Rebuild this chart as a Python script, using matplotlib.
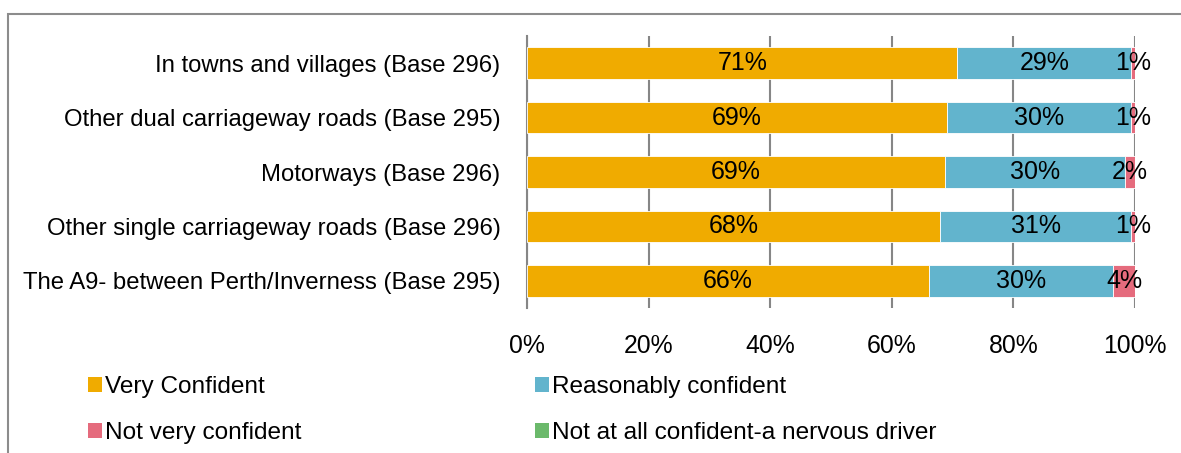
import numpy as np
import matplotlib.pyplot as plt
from matplotlib.patches import Patch, Rectangle

plt.rcParams['font.family'] = ['Liberation Sans', 'DejaVu Sans']

# data (percent of respondents)
roads = ["In towns and villages (Base 296)",
         "Other dual carriageway roads (Base 295)",
         "Motorways (Base 296)",
         "Other single carriageway roads (Base 296)",
         "The A9- between Perth/Inverness (Base 295)"]
very_conf = [70.8, 69.0, 68.8, 68.0, 66.1]
reas_conf = [28.6, 30.3, 29.6, 31.3, 30.3]
not_very = [0.6, 0.7, 1.6, 0.7, 3.6]
not_at_all = [0.0, 0.0, 0.0, 0.0, 0.0]

series = ["Very Confident", "Reasonably confident",
          "Not very confident", "Not at all confident-a nervous driver"]
colors = ["#F0AB00", "#62B4CD", "#E56B7D", "#6BB96B"]

fig = plt.figure(figsize=(11.81, 4.53), dpi=100)
ax = fig.add_axes([527/1181, 1-308/453, 608/1181, 272/453])

y = np.arange(len(roads))
left = np.zeros(len(roads))
for vals, name, c in zip([very_conf, reas_conf, not_very, not_at_all], series, colors):
    vals = np.array(vals)
    bars = ax.barh(y, vals, left=left, height=0.58, color=c, label=name,
                   edgecolor="white", linewidth=0.6, zorder=3)
    if vals.max() > 0:
        ax.bar_label(bars, labels=["%.0f%%" % v for v in vals], label_type="center",
                     fontsize=18, color="black", zorder=4)
    left += vals

ax.set_xlim(0, 100)
ax.set_ylim(len(roads) - 0.5, -0.5)
ax.set_yticks(y)
ax.set_yticklabels(roads, fontsize=17.2)
ax.set_xticks(np.arange(0, 101, 20))
ax.set_xticklabels(["%d%%" % t for t in range(0, 101, 20)], fontsize=17.8)
ax.tick_params(axis="y", length=0, pad=19)
ax.tick_params(axis="x", length=0, pad=19)
ax.grid(axis="x", color="#868686", linewidth=1.5, zorder=0)
for s in ["top", "right", "bottom"]:
    ax.spines[s].set_visible(False)
ax.spines["left"].set_color("#868686")
ax.spines["left"].set_linewidth(1.5)

# legend: two columns, rows filled left to right
handles = [Patch(facecolor=c) for c in colors]
kw = dict(loc="upper left", frameon=False, fontsize=17.6, handlelength=0.57,
          handleheight=0.57, handletextpad=0.15, labelspacing=1.0, borderaxespad=0)
fig.legend([handles[0], handles[2]], [series[0], series[2]],
           bbox_to_anchor=(78/1181, 1-366/453), **kw)
fig.legend([handles[1], handles[3]], [series[1], series[3]],
           bbox_to_anchor=(525/1181, 1-366/453), **kw)

# chart area border
fig.patches.append(Rectangle((8/1181, -0.1), 1.2, 1.1 - 14/453, transform=fig.transFigure,
                             fill=False, edgecolor="#8C8C8C", linewidth=1.5))

fig.savefig("out.png", dpi=100)
